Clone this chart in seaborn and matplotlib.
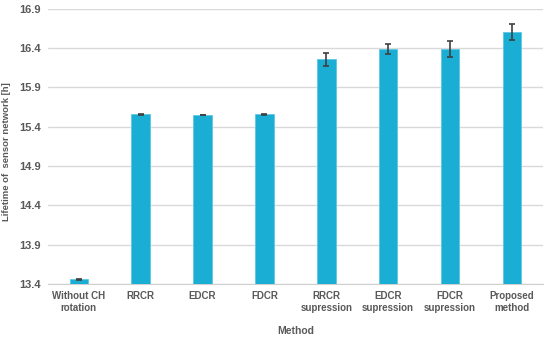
import pandas as pd
import matplotlib.pyplot as plt
import seaborn as sns
import numpy as np

# --- Data ---
methods = ['Without CH\nrotation', 'RRCR', 'EDCR', 'FDCR',
           'RRCR\nsupression', 'EDCR\nsupression', 'FDCR\nsupression', 'Proposed\nmethod']
lifetime = [13.46, 15.56, 15.55, 15.56, 16.26, 16.39, 16.39, 16.61]
errors = [0.008, 0.006, 0.006, 0.006, 0.085, 0.06, 0.1, 0.1]

df = pd.DataFrame({'Method': methods, 'Lifetime': lifetime})

sns.set_style('white')
plt.rcParams['font.family'] = ['Liberation Sans', 'DejaVu Sans']
text_color = '#595959'

fig, ax = plt.subplots(figsize=(5.5, 3.41), dpi=100)
fig.subplots_adjust(left=0.087, right=0.987, top=0.974, bottom=0.167)

sns.barplot(data=df, x='Method', y='Lifetime', color='#1AAED4', width=0.3,
            edgecolor='#5CC8E6', linewidth=0.6, saturation=1, ax=ax, zorder=3)

# error bars at bar centres
centers = [p.get_x() + p.get_width() / 2 for p in ax.patches]
ax.errorbar(centers, lifetime, yerr=errors, fmt='none', ecolor='#404040',
            elinewidth=1.2, capsize=2, capthick=1.2, zorder=4)

ax.set_ylim(13.4, 16.9)
yt = np.arange(13.4, 16.95, 0.5)
ax.set_yticks(yt)
ax.set_yticklabels([f'{v:.1f}' for v in yt])
ax.grid(axis='y', color='#d9d9d9', linewidth=1, zorder=0)
for s in ['top', 'right', 'left']:
    ax.spines[s].set_visible(False)
ax.spines['bottom'].set_color('#d0d0d0')
ax.tick_params(axis='y', length=0, labelsize=8, colors=text_color, pad=5)
ax.tick_params(axis='x', length=0, labelsize=7, colors=text_color, pad=5)
for lbl in ax.get_xticklabels() + ax.get_yticklabels():
    lbl.set_fontweight('bold')
ax.set_xlim(-0.5, len(methods) - 0.5)

ax.set_xlabel('Method', fontsize=7.5, fontweight='bold', color=text_color, labelpad=10)
ax.set_ylabel('Lifetime of  sensor network [h]', fontsize=6.8, fontweight='bold',
              color=text_color)
ax.yaxis.set_label_coords(-0.075, 0.48)

plt.savefig('out.png', dpi=100)
plt.close()
